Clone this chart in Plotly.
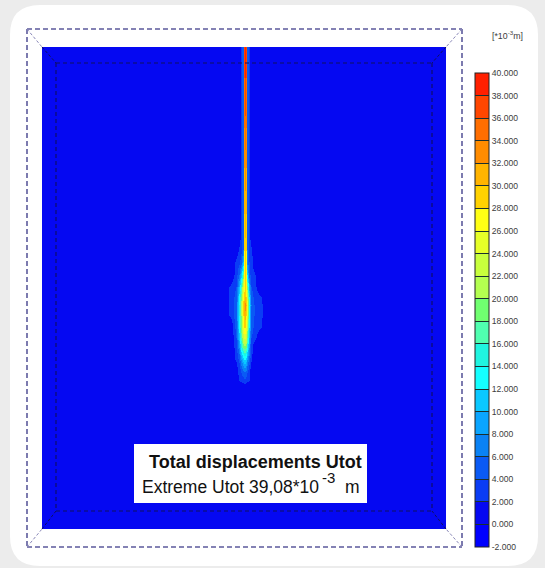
import plotly.graph_objects as go

# ---------- data ----------
offset_x = [-203, -22, -14, -9, -6, -4, -2, -1, 0, 1, 2, 4, 6, 9, 14, 22, 201]
depth = [0, 60, 120, 190, 203, 215, 228, 240, 250, 258, 268, 280, 290, 300, 312, 323, 331, 340, 482]
Utot = [
    [0.5, 0.5, 0.5, 0.5, 0.5, 3.0, 5.0, 37, 39.5, 37, 5.0, 3.0, 0.5, 0.5, 0.5, 0.5, 0.5],
    [0.5, 0.5, 0.5, 0.5, 0.5, 3.0, 5.0, 35, 36.5, 35, 5.0, 3.0, 0.5, 0.5, 0.5, 0.5, 0.5],
    [0.5, 0.5, 0.5, 0.5, 0.5, 3.0, 5.0, 32, 33, 32, 5.0, 3.0, 0.5, 0.5, 0.5, 0.5, 0.5],
    [0.5, 0.5, 0.5, 0.5, 0.5, 3.0, 5.0, 29, 30, 29, 5.0, 3.0, 0.5, 0.5, 0.5, 0.5, 0.5],
    [0.5, 0.5, 0.5, 0.5, 2.5, 3.5, 6.0, 28, 29, 28, 6.0, 3.5, 2.5, 0.5, 0.5, 0.5, 0.5],
    [0.5, 0.5, 0.5, 2.5, 3.5, 5.0, 10, 27, 28, 27, 7.0, 4.0, 3.0, 0.5, 0.5, 0.5, 0.5],
    [0.5, 0.5, 0.5, 3.0, 6.0, 11, 18, 27, 28, 26, 12, 5.0, 3.0, 2.5, 0.5, 0.5, 0.5],
    [0.5, 0.5, 2.5, 4.0, 10, 16, 24, 27, 28, 26, 19, 9.0, 4.0, 3.0, 0.5, 0.5, 0.5],
    [0.5, 0.5, 2.5, 5.0, 13, 19, 27, 29, 30, 28, 23, 12, 5.0, 3.5, 2.5, 0.5, 0.5],
    [0.5, 0.5, 2.5, 5.5, 14, 21, 29, 31, 33, 30, 25, 14, 6.0, 4.0, 3.0, 0.5, 0.5],
    [0.5, 0.5, 2.5, 5.5, 14, 20, 28, 30, 31, 28, 24, 13, 5.5, 4.0, 3.0, 0.5, 0.5],
    [0.5, 0.5, 0.5, 5.0, 13, 19, 26, 28, 28, 26, 21, 12, 5.0, 3.5, 2.5, 0.5, 0.5],
    [0.5, 0.5, 0.5, 4.0, 11, 17, 23, 25, 25, 23, 18, 10, 4.0, 3.0, 0.5, 0.5, 0.5],
    [0.5, 0.5, 0.5, 3.0, 8.0, 14, 18, 19, 19, 18, 14, 8.0, 3.0, 0.5, 0.5, 0.5, 0.5],
    [0.5, 0.5, 0.5, 2.5, 4.5, 8.0, 11, 12, 12, 11, 8.0, 5.0, 2.5, 0.5, 0.5, 0.5, 0.5],
    [0.5, 0.5, 0.5, 0.5, 3.0, 4.5, 6.0, 6.5, 6.5, 6.0, 4.5, 3.0, 0.5, 0.5, 0.5, 0.5, 0.5],
    [0.5, 0.5, 0.5, 0.5, 2.5, 3.0, 3.5, 4.0, 4.0, 3.5, 3.0, 2.5, 0.5, 0.5, 0.5, 0.5, 0.5],
    [0.5, 0.5, 0.5, 0.5, 0.5, 0.5, 0.5, 0.5, 0.5, 0.5, 0.5, 0.5, 0.5, 0.5, 0.5, 0.5, 0.5],
    [0.5, 0.5, 0.5, 0.5, 0.5, 0.5, 0.5, 0.5, 0.5, 0.5, 0.5, 0.5, 0.5, 0.5, 0.5, 0.5, 0.5],
]
tick_values = list(range(-2, 41, 2))
tick_labels = [f"{v:.3f}" for v in tick_values]
band_colors = [
    "#0000ff", "#0508f2", "#0a3cf5", "#0a5af5", "#0a82f5", "#0aa5ff", "#0ac8ff",
    "#14ffff", "#20f5e0", "#50ffb0", "#70ff70", "#b4ff50", "#c8ff3c", "#e6ff28",
    "#ffff14", "#ffd200", "#ffb400", "#ff8c00", "#ff6e00", "#ff4600", "#ff2000",
]

# ---------- layout ----------
W, H = 545, 568
px = lambda v: v / W
py = lambda v: 1 - v / H

scale = []
n = len(band_colors)
for i, c in enumerate(band_colors):
    scale += [[i / n, c], [(i + 1) / n, c]]

fig = go.Figure(go.Heatmap(
    x=offset_x, y=depth, z=Utot, zmin=-2, zmax=40, zsmooth="best",
    colorscale=scale, hoverinfo="skip",
    colorbar=dict(
        x=px(475), xanchor="left", xpad=0, y=py(547), yanchor="bottom", ypad=0,
        len=(547 - 73) / H, lenmode="fraction", thickness=14, thicknessmode="pixels",
        outlinecolor="#222222", outlinewidth=1, borderwidth=0,
        tickmode="array", tickvals=tick_values, ticktext=tick_labels,
        ticks="inside", ticklen=14, tickcolor="#1a3030", tickwidth=1,
        tickfont=dict(family="Liberation Sans", size=8.6, color="#3c3c3c"),
    ),
))

fig.update_layout(
    width=W, height=H, margin=dict(l=0, r=0, t=0, b=0, autoexpand=False),
    paper_bgcolor="#ececec", plot_bgcolor="#0508f2", showlegend=False,
    xaxis=dict(domain=[px(42), px(446)], range=[-203, 201], visible=False),
    yaxis=dict(domain=[py(529), py(47)], range=[482, 0], visible=False),
)

def line(x0, y0, x1, y1, color, width=1.3, dash="5px,3px", layer="above"):
    fig.add_shape(type="line", xref="paper", yref="paper", x0=px(x0), y0=py(y0), x1=px(x1), y1=py(y1),
                  line=dict(color=color, width=width, dash=dash), layer=layer)

# white rounded panel
L, T, R, B, r = 10, 5, 538, 566, 30
path = (f"M {px(L+r)},{py(T)} L {px(R-r)},{py(T)} Q {px(R)},{py(T)} {px(R)},{py(T+r)} "
        f"L {px(R)},{py(B-r)} Q {px(R)},{py(B)} {px(R-r)},{py(B)} "
        f"L {px(L+r)},{py(B)} Q {px(L)},{py(B)} {px(L)},{py(B-r)} "
        f"L {px(L)},{py(T+r)} Q {px(L)},{py(T)} {px(L+r)},{py(T)} Z")
fig.add_shape(type="path", xref="paper", yref="paper", path=path,
              fillcolor="#ffffff", line=dict(width=0), layer="below")

# dashed model boundaries
OUT = "#5c5a9c"
IN = "#10105e"
line(27, 29, 462, 29, OUT, 1.6)
line(27, 547, 462, 547, OUT, 1.6)
line(27, 29, 27, 547, OUT, 1.6)
line(462, 29, 462, 547, OUT, 1.6)
line(56, 63, 432, 63, IN, 1.1, "4px,3px")
line(56, 511, 432, 511, IN, 1.1, "4px,3px")
line(56, 63, 56, 511, IN, 1.1, "4px,3px")
line(432, 63, 432, 511, IN, 1.1, "4px,3px")
for (ox, oy), (fx, fy), (ix, iy) in [
    ((27, 29), (42, 47), (56, 63)),
    ((462, 29), (446, 47), (432, 63)),
    ((27, 547), (42, 529), (56, 511)),
    ((462, 547), (446, 529), (432, 511)),
]:
    line(ox, oy, fx, fy, "#8a88b8", 1, "3px,2px")
    line(fx, fy, ix, iy, IN, 1, "3px,2px")

# caption box
fig.add_shape(type="rect", xref="paper", yref="paper", x0=px(134), y0=py(503), x1=px(367), y1=py(444),
              fillcolor="#ffffff", line=dict(width=0), layer="above")

def text(x, y, s, size, color="#111111", anchor="left", font="Liberation Sans"):
    fig.add_annotation(xref="paper", yref="paper", x=px(x), y=py(y), text=s, showarrow=False,
                       xanchor=anchor, yanchor="middle", align="left",
                       font=dict(family=font, size=size, color=color), borderpad=0, borderwidth=0)

text(149, 462, "<b>Total displacements Utot</b>", 18)
text(142, 487, "Extreme Utot 39,08*10", 17.5)
text(322, 477, "-3", 15)
text(345, 487, "m", 17.5)
text(492, 35, "[*10<sup>-3</sup>m]", 8.8, "#3c3c3c")

fig.write_html("out.html", config={"displayModeBar": False},
               post_script="document.body.style.margin='0';document.documentElement.style.overflow='hidden';")
